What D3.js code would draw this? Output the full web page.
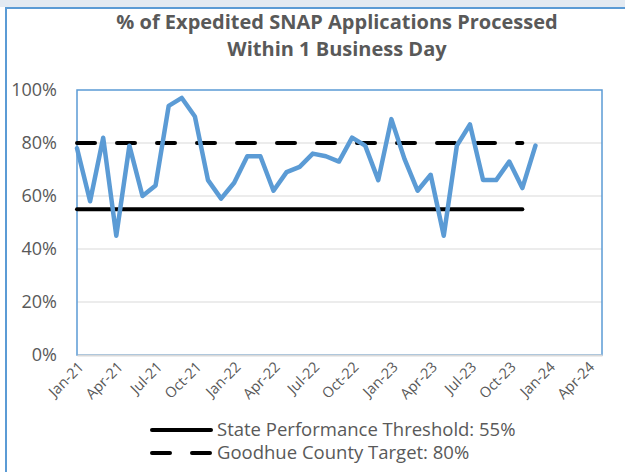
<!DOCTYPE html>
<html>
<head>
<meta charset="utf-8">
<script src="https://cdn.jsdelivr.net/npm/d3@7"></script>
<style>
body { margin: 0; background: #fff; }
svg text { font-family: "Open Sans", sans-serif; fill: #595959; }
</style>
</head>
<body>
<div id="chart"></div>
<script>
// monthly values, Jan-21 .. Dec-23
var months = ["Jan-21","Feb-21","Mar-21","Apr-21","May-21","Jun-21","Jul-21","Aug-21","Sep-21","Oct-21","Nov-21","Dec-21",
              "Jan-22","Feb-22","Mar-22","Apr-22","May-22","Jun-22","Jul-22","Aug-22","Sep-22","Oct-22","Nov-22","Dec-22",
              "Jan-23","Feb-23","Mar-23","Apr-23","May-23","Jun-23","Jul-23","Aug-23","Sep-23","Oct-23","Nov-23","Dec-23"];
var pctProcessed = [78, 58, 82, 45, 79, 60, 64, 94, 97, 90, 66, 59,
                    65, 75, 75, 62, 69, 71, 76, 75, 73, 82, 79, 66,
                    89, 74, 62, 68, 45, 79, 87, 66, 66, 73, 63, 79];
var thresholdMonths = months.slice(0, 35);
var stateThreshold = thresholdMonths.map(function() { return 55; });
var countyTarget = thresholdMonths.map(function() { return 80; });
var tickLabels = ["Jan-21","Apr-21","Jul-21","Oct-21","Jan-22","Apr-22","Jul-22","Oct-22","Jan-23","Apr-23","Jul-23","Oct-23","Jan-24","Apr-24"];
var yTicks = [0, 20, 40, 60, 80, 100];
var legendLabels = ["State Performance Threshold: 55%", "Goodhue County Target: 80%"];

var W = 625, H = 472;
var margin = {top: 90, right: 23, bottom: 117, left: 77},
    width = W - margin.left - margin.right,
    height = H - margin.top - margin.bottom;

var svg = d3.select("#chart").append("svg")
    .attr("width", W)
    .attr("height", H);

// page strip + outer chart frame
svg.append("rect").attr("x", 0).attr("y", 0).attr("width", W).attr("height", 7).attr("fill", "#e3eaf2");
svg.append("rect").attr("x", 6).attr("y", 8).attr("width", W + 20).attr("height", H + 20)
    .attr("fill", "#fff").attr("stroke", "#5b9bd5").attr("stroke-width", 2);

// title
var title = svg.append("text")
    .attr("text-anchor", "middle")
    .style("font-size", "20px")
    .style("font-weight", "bold");
title.append("tspan").attr("x", 337).attr("y", 29).text("% of Expedited SNAP Applications Processed");
title.append("tspan").attr("x", 337).attr("y", 56).text("Within 1 Business Day");

var g = svg.append("g").attr("transform", "translate(" + margin.left + "," + margin.top + ")");

var x = d3.scaleLinear().domain([0, 40.08]).range([0, width]);
var y = d3.scaleLinear().domain([0, 100]).range([height, 0]);

// gridlines
g.append("g")
  .selectAll("line")
  .data(yTicks.slice(1, 5))
  .enter().append("line")
    .attr("x1", 0).attr("x2", width)
    .attr("y1", function(d) { return y(d); })
    .attr("y2", function(d) { return y(d); })
    .attr("stroke", "#d9d9d9").attr("stroke-width", 1);

// plot frame
g.append("rect").attr("width", width).attr("height", height)
    .attr("fill", "none").attr("stroke", "#5b9bd5").attr("stroke-width", 1.5);

// y axis
var yAxis = g.append("g")
    .call(d3.axisLeft(y).tickValues(yTicks).tickSize(0).tickPadding(20)
      .tickFormat(function(d) { return d + "%"; }));
yAxis.select(".domain").remove();
yAxis.selectAll("text").style("font-size", "18px").attr("fill", "#595959");

// x axis
var xAxis = g.append("g")
    .attr("transform", "translate(0," + height + ")")
    .call(d3.axisBottom(x).tickValues(d3.range(0, 40, 3)).tickSize(0)
      .tickFormat(function(d, i) { return tickLabels[i]; }));
xAxis.select(".domain").attr("stroke", "#d9d9d9").attr("stroke-width", 2);
xAxis.selectAll("text")
    .style("font-size", "14.5px")
    .attr("fill", "#595959")
    .attr("text-anchor", "end")
    .attr("dy", null)
    .attr("y", 0)
    .attr("transform", "translate(7,13) rotate(-45)");

var line = d3.line()
    .x(function(d, i) { return x(i); })
    .y(function(d) { return y(d); });

g.append("path")
    .datum(stateThreshold)
    .attr("d", line)
    .attr("fill", "none").attr("stroke", "#000").attr("stroke-width", 4)
    .attr("stroke-linecap", "round");

g.append("path")
    .datum(countyTarget)
    .attr("d", line)
    .attr("fill", "none").attr("stroke", "#000").attr("stroke-width", 4)
    .attr("stroke-linecap", "round")
    .attr("stroke-dasharray", "18,22");

g.append("path")
    .datum(pctProcessed)
    .attr("d", line)
    .attr("fill", "none").attr("stroke", "#5b9bd5").attr("stroke-width", 4.5)
    .attr("stroke-linejoin", "round").attr("stroke-linecap", "round");

// legend
var legend = svg.append("g").attr("transform", "translate(150,0)");
var rows = legend.selectAll("g").data(legendLabels).enter().append("g")
    .attr("transform", function(d, i) { return "translate(0," + (430 + i * 23) + ")"; });
rows.append("line")
    .attr("x1", 2).attr("x2", 61).attr("y1", 0).attr("y2", 0)
    .attr("stroke", "#000").attr("stroke-width", 4).attr("stroke-linecap", "round")
    .attr("stroke-dasharray", function(d, i) { return i === 1 ? "18,22" : null; });
rows.append("text")
    .attr("x", 67).attr("y", 0).attr("dy", "0.35em")
    .style("font-size", "18.5px")
    .text(function(d) { return d; });
</script>
</body>
</html>
